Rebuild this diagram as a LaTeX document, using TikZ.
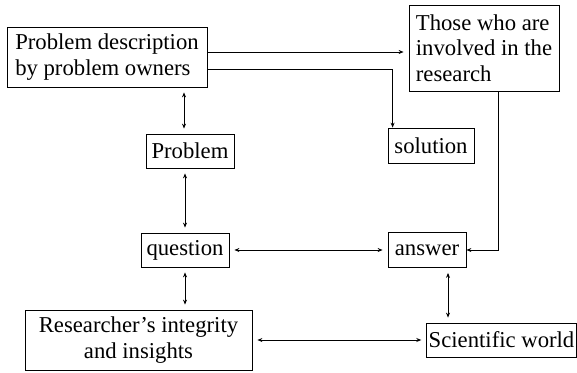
\documentclass[tikz,border=0pt]{standalone}
\usepackage{fontspec}
\setmainfont{Liberation Serif}
\usetikzlibrary{arrows.meta}
\begin{document}
\begin{tikzpicture}
[x=1pt,y=-1pt,
  nodedecorate/.style={shape=rectangle,draw,line width=0.8pt,inner sep=2pt,
    font=\fontsize{22.7}{25.5}\selectfont},
  arrowdecorate/.style={-{Stealth[length=5pt,width=4pt]},line width=0.8pt},
  dblarrowdecorate/.style={{Stealth[length=5pt,width=4pt]}-{Stealth[length=5pt,width=4pt]},
    line width=0.8pt,shorten <=5pt,shorten >=5pt}]
\useasboundingbox (0,0) rectangle (577,372);
%% boxes
\foreach \nodename/\x/\y/\boxw/\boxh/\textalign/\nodetext in {
  desc/107/57/200/60/left/{Problem description\\by problem owners},
  involved/484/48/150/86/left/{Those who are\\involved in the\\research},
  problem/190/151/88/34/center/Problem,
  solution/431/145.5/86/35/center/solution,
  question/185/250/88/34/center/question,
  answer/427/250/78/35/center/answer,
  researcher/138.5/340/227/60/center/{Researcher’s integrity\\and insights},
  scientific/501.5/340/149/34/center/Scientific world} {
  \node (\nodename) at (\x,\y) [nodedecorate,minimum width=\boxw pt,
    minimum height=\boxh pt,align=\textalign] {\nodetext};
}
%% one-way links
\draw[arrowdecorate,shorten >=5pt] ([yshift=5pt]desc.east) -- ([yshift=5pt]desc.east -| involved.west);
\draw[arrowdecorate] ([yshift=-12pt]desc.east) -| ([xshift=5pt]solution.north west);
\draw[arrowdecorate] ([xshift=14pt]involved.south) |- (answer.east);
%% two-way links
\draw[dblarrowdecorate] ([xshift=-6pt]problem.north |- desc.south) -- ([xshift=-6pt]problem.north);
\draw[dblarrowdecorate] (question.north) -- (question.north |- problem.south);
\draw[dblarrowdecorate] (question.south) -- (question.south |- researcher.north);
\draw[dblarrowdecorate] ([xshift=21pt]answer.south) -- ([xshift=21pt]answer.south |- scientific.north);
\foreach \startpoint/\endpoint in {question.east/answer.west, researcher.east/scientific.west} {
  \draw[dblarrowdecorate] (\startpoint) -- (\endpoint);
}
\end{tikzpicture}
\end{document}
